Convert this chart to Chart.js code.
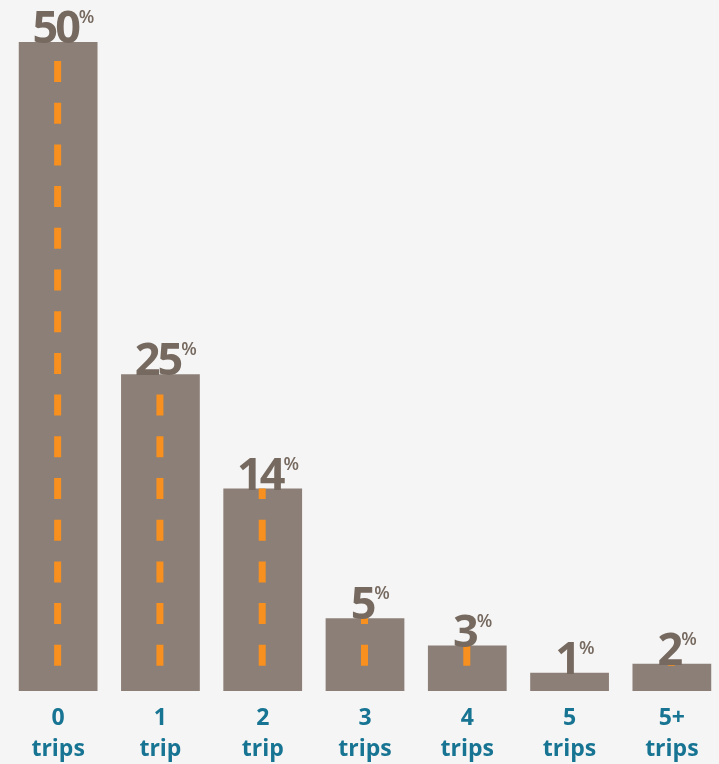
<!DOCTYPE html>
<html>
<head>
<meta charset="utf-8">
<script src="https://cdn.jsdelivr.net/npm/chart.js@4"></script>
<style>
  html, body { margin: 0; padding: 0; background: #f5f5f5; overflow: hidden; }
  #wrap { position: relative; width: 724px; height: 764px; }
</style>
</head>
<body>
<div id="wrap"><canvas id="tripsChart"></canvas></div>
<script>
// categories + values
const tripLabels = [['0', 'trips'], ['1', 'trip'], ['2', 'trip'], ['3', 'trips'], ['4', 'trips'], ['5', 'trips'], ['5+', 'trips']];
const shareLabels = [50, 25, 14, 5, 3, 1, 2];            // printed percentages
const barHeights = [50, 24.4, 15.6, 5.6, 3.5, 1.4, 2.1]; // drawn bar heights (as in the graphic)

const barColor = '#8c7f77';
const numColor = '#76695f';
const dashColor = '#f7901e';
const axisColor = '#177493';

// orange road-marking dashes down the middle of each bar
const roadDashes = {
    id: 'roadDashes',
    afterDatasetsDraw(chart) {
        const ctx = chart.ctx;
        const y = chart.scales.y;
        const startY = y.getPixelForValue(50) + 19;
        const endY = y.getPixelForValue(0) - 25;
        chart.getDatasetMeta(0).data.forEach(bar => {
            ctx.save();
            ctx.beginPath();
            ctx.rect(bar.x - bar.width / 2, bar.y, bar.width, bar.base - bar.y);
            ctx.clip();
            ctx.strokeStyle = dashColor;
            ctx.lineWidth = 7;
            ctx.setLineDash([21, 20.7]);
            ctx.beginPath();
            ctx.moveTo(bar.x - 0.5, startY);
            ctx.lineTo(bar.x - 0.5, endY);
            ctx.stroke();
            ctx.restore();
        });
    }
};

// big number with a small % sign on top of each bar
const shareText = {
    id: 'shareText',
    afterDatasetsDraw(chart) {
        const ctx = chart.ctx;
        chart.getDatasetMeta(0).data.forEach((bar, i) => {
            const txt = String(shareLabels[i]);
            ctx.save();
            ctx.fillStyle = numColor;
            ctx.font = "bold 45px 'Open Sans'";
            ctx.letterSpacing = '-3px';
            ctx.textBaseline = 'alphabetic';
            ctx.textAlign = 'center';
            const w = ctx.measureText(txt).width;
            const cx = bar.x - 3;
            const baseY = bar.y + 1;
            ctx.fillText(txt, cx, baseY);
            ctx.letterSpacing = '0px';
            ctx.font = "600 18px 'Open Sans'";
            ctx.textAlign = 'left';
            ctx.textBaseline = 'top';
            ctx.fillText('%', cx + w / 2 + 1, baseY - 34);
            ctx.restore();
        });
    }
};

new Chart(document.getElementById('tripsChart'), {
    type: 'bar',
    data: {
        labels: tripLabels,
        datasets: [{
            data: barHeights,
            backgroundColor: barColor,
            borderWidth: 0,
            barPercentage: 0.77,
            categoryPercentage: 1
        }]
    },
    options: {
        responsive: true,
        maintainAspectRatio: false,
        animation: false,
        layout: { padding: { top: 42, left: 7, right: 1, bottom: 0 } },
        plugins: {
            legend: { display: false },
            tooltip: { enabled: false }
        },
        scales: {
            x: {
                grid: { display: false, drawTicks: false },
                border: { display: false },
                afterFit(scale) { scale.height = 73; },
                ticks: {
                    color: axisColor,
                    padding: 12,
                    font: { family: "'Open Sans'", size: 23, weight: 'bold', lineHeight: 1.35 }
                }
            },
            y: {
                display: false,
                min: 0,
                max: 50
            }
        }
    },
    plugins: [roadDashes, shareText]
});
</script>
</body>
</html>
